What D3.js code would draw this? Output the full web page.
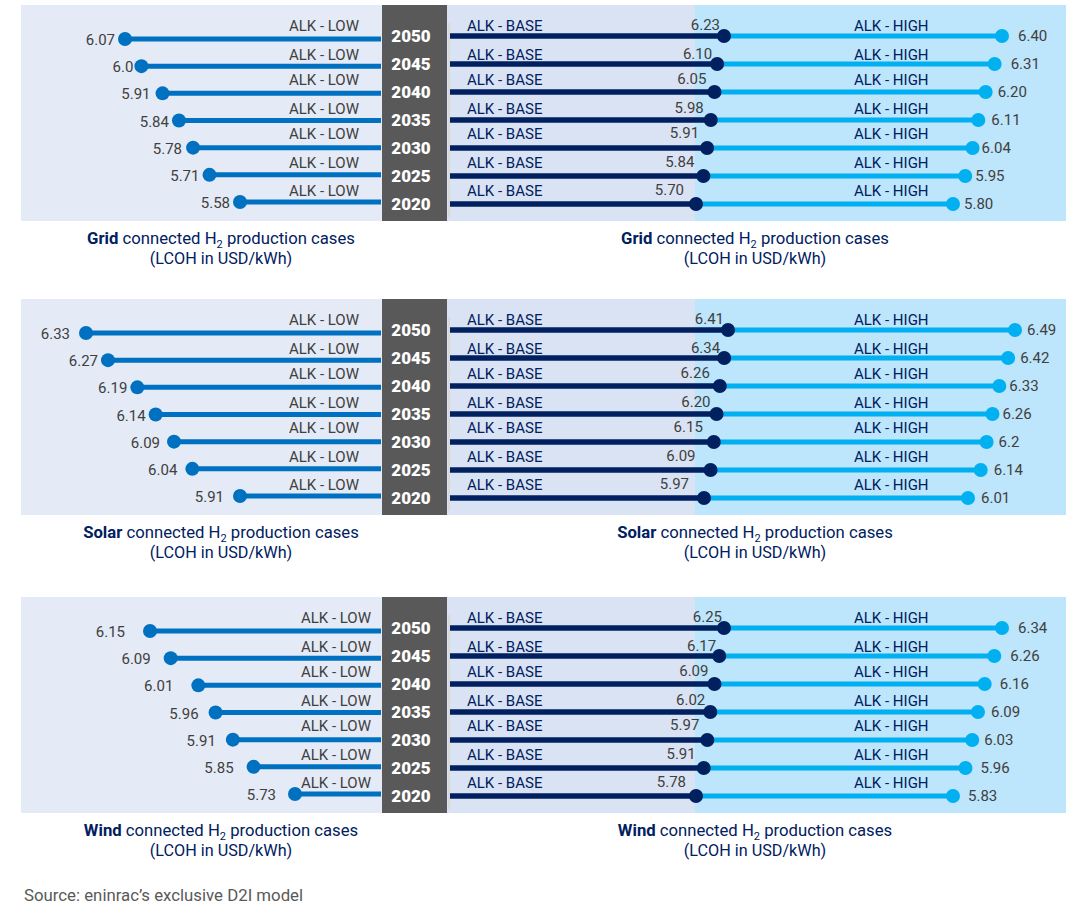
<!DOCTYPE html>
<html>
<head>
<meta charset="utf-8">
<script src="https://cdnjs.cloudflare.com/ajax/libs/d3/7.8.5/d3.min.js"></script>
<style>
  html, body { margin: 0; padding: 0; background: #fff; }
  text { font-family: Roboto, "Noto Sans", sans-serif; }
</style>
</head>
<body>
<div id="chart"></div>
<script>
// values, top row first; kept as strings because the labels show them as printed (6.0, 6.2)
var years = ["2050", "2045", "2040", "2035", "2030", "2025", "2020"];

var gridLow = ["6.07", "6.0", "5.91", "5.84", "5.78", "5.71", "5.58"];
var gridBase = ["6.23", "6.10", "6.05", "5.98", "5.91", "5.84", "5.70"];
var gridHigh = ["6.40", "6.31", "6.20", "6.11", "6.04", "5.95", "5.80"];

var solarLow = ["6.33", "6.27", "6.19", "6.14", "6.09", "6.04", "5.91"];
var solarBase = ["6.41", "6.34", "6.26", "6.20", "6.15", "6.09", "5.97"];
var solarHigh = ["6.49", "6.42", "6.33", "6.26", "6.2", "6.14", "6.01"];

var windLow = ["6.15", "6.09", "6.01", "5.96", "5.91", "5.85", "5.73"];
var windBase = ["6.25", "6.17", "6.09", "6.02", "5.97", "5.91", "5.78"];
var windHigh = ["6.34", "6.26", "6.16", "6.09", "6.03", "5.96", "5.83"];

// layout: each panel has its own pixel ranges, the source did not share an axis
var panels = [
    {name: "Grid", top: 5, low: gridLow, base: gridBase, high: gridHigh,
        lowRange: [240, 125], baseRange: [696, 724], highRange: [953, 1002],
        lowGap: [10, 8, 12, 10, 11, 10, 10], baseGap: [4, 5, 8, 7, 8, 9, 12], highGap: [16, 16, 12, 13, 9, 10, 11],
        lowLabelX: 359},
    {name: "Solar", top: 299, low: solarLow, base: solarBase, high: solarHigh,
        lowRange: [240, 86], baseRange: [704, 728], highRange: [968, 1015],
        lowGap: [16, 10, 10, 10, 14, 15, 16], baseGap: [4, 4, 10, 6, 11, 15, 15], highGap: [12, 12, 10, 10, 12, 13, 13],
        lowLabelX: 359},
    {name: "Wind", top: 597, low: windLow, base: windBase, high: windHigh,
        lowRange: [295, 150], baseRange: [696, 724], highRange: [953, 1002],
        lowGap: [25, 20, 25, 17, 17, 20, 19], baseGap: [2, 3, 6, 5, 8, 8, 10], highGap: [16, 16, 15, 13, 12, 15, 15],
        lowLabelX: 371}
];
var labelOffset = [21, 50, 75, 104, 129, 158, 186];

var colors = {low: "#0070c0", base: "#002060", high: "#00b0f0", lowBg: "#e4eaf6", baseBg: "#dae3f3", highBg: "#bde5fb",
    years: "#595959", value: "#404040", caption: "#002060"};

var svg = d3.select("#chart").append("svg").attr("width", 1084).attr("height", 916);

var lowRow = d3.scalePoint().domain(years).range([34, 197]);
var baseRow = d3.scalePoint().domain(years).range([31, 199]);

function extent(values) {
    var nums = values.map(Number);
    return [d3.min(nums), d3.max(nums)];
}

function caption(g, name, cx, y) {
    var t = g.append("text").attr("x", cx).attr("y", y).attr("text-anchor", "middle")
        .attr("fill", colors.caption).style("font-size", "16.7px");
    t.append("tspan").style("font-weight", 700).text(name);
    t.append("tspan").text(" connected H");
    t.append("tspan").attr("dy", 4).style("font-size", "11px").text("2");
    t.append("tspan").attr("dy", -4).text(" production cases");
    g.append("text").attr("x", cx).attr("y", y + 20).attr("text-anchor", "middle")
        .attr("fill", colors.caption).style("font-size", "16.2px").text("(LCOH in USD/kWh)");
}

function drawPanel(p) {
    var g = svg.append("g").attr("transform", "translate(0," + p.top + ")");

    var xLow = d3.scaleLinear().domain(extent(p.low)).range(p.lowRange);
    var xBase = d3.scaleLinear().domain(extent(p.base)).range(p.baseRange);
    var xHigh = d3.scaleLinear().domain(extent(p.high)).range(p.highRange);

    g.append("rect").attr("x", 21).attr("width", 361).attr("height", 216).attr("fill", colors.lowBg);
    g.append("rect").attr("x", 447).attr("width", 248).attr("height", 216).attr("fill", colors.baseBg);
    g.append("rect").attr("x", 695).attr("width", 371).attr("height", 216).attr("fill", colors.highBg);
    g.append("rect").attr("x", 382).attr("width", 65).attr("height", 216).attr("fill", colors.years);
    g.append("rect").attr("x", 448).attr("y", 18).attr("width", 2).attr("height", 194).attr("fill", "#d9d9d9");

    var rows = g.selectAll(".row").data(years).enter().append("g").attr("class", "row");

    // lines first so the base dots sit on top of the high line
    rows.append("line").attr("x1", 381).attr("x2", function (d, i) { return xLow(+p.low[i]); })
        .attr("y1", function (d) { return lowRow(d); }).attr("y2", function (d) { return lowRow(d); })
        .attr("stroke", colors.low).attr("stroke-width", 5);
    rows.append("line").attr("x1", function (d, i) { return xBase(+p.base[i]); })
        .attr("x2", function (d, i) { return xHigh(+p.high[i]); })
        .attr("y1", function (d) { return baseRow(d); }).attr("y2", function (d) { return baseRow(d); })
        .attr("stroke", colors.high).attr("stroke-width", 5);
    rows.append("line").attr("x1", 450).attr("x2", function (d, i) { return xBase(+p.base[i]); })
        .attr("y1", function (d) { return baseRow(d); }).attr("y2", function (d) { return baseRow(d); })
        .attr("stroke", colors.base).attr("stroke-width", 5.5);

    rows.append("circle").attr("cx", function (d, i) { return xLow(+p.low[i]); })
        .attr("cy", function (d) { return lowRow(d); }).attr("r", 7).attr("fill", colors.low);
    rows.append("circle").attr("cx", function (d, i) { return xHigh(+p.high[i]); })
        .attr("cy", function (d) { return baseRow(d); }).attr("r", 7).attr("fill", colors.high);
    rows.append("circle").attr("cx", function (d, i) { return xBase(+p.base[i]); })
        .attr("cy", function (d) { return baseRow(d); }).attr("r", 7).attr("fill", colors.base);

    // year column
    rows.append("text").attr("x", 411).attr("y", function (d) { return baseRow(d) + 6; })
        .attr("text-anchor", "middle").attr("fill", "#fff")
        .style("font-size", "17px").style("font-weight", 900).text(function (d) { return d; });

    // series names
    function names(label, x, anchor, fill) {
        rows.append("text").attr("x", x).attr("y", function (d, i) { return labelOffset[i] + 5; })
            .attr("text-anchor", anchor).attr("fill", fill).style("font-size", "15px").text(label);
    }
    names("ALK - LOW", p.lowLabelX, "end", colors.value);
    names("ALK - BASE", 467, "start", colors.base);
    names("ALK - HIGH", 854, "start", colors.base);

    // value labels
    rows.append("text").attr("x", function (d, i) { return xLow(+p.low[i]) - p.lowGap[i]; })
        .attr("y", function (d) { return lowRow(d) + 6; }).attr("text-anchor", "end")
        .attr("fill", colors.value).style("font-size", "15px").text(function (d, i) { return p.low[i]; });
    rows.append("text").attr("x", function (d, i) { return xBase(+p.base[i]) - p.baseGap[i]; })
        .attr("y", function (d, i) { return labelOffset[i] + 4; }).attr("text-anchor", "end")
        .attr("fill", colors.value).style("font-size", "15px").text(function (d, i) { return p.base[i]; });
    rows.append("text").attr("x", function (d, i) { return xHigh(+p.high[i]) + p.highGap[i]; })
        .attr("y", function (d) { return baseRow(d) + 5; }).attr("text-anchor", "start")
        .attr("fill", colors.value).style("font-size", "15px").text(function (d, i) { return p.high[i]; });

    caption(g, p.name, 221, 239);
    caption(g, p.name, 755, 239);
}

panels.forEach(drawPanel);

svg.append("text").attr("x", 24).attr("y", 901).attr("fill", "#595959")
    .style("font-size", "16.8px").text("Source: eninrac\u2019s exclusive D2I model");
</script>
</body>
</html>
